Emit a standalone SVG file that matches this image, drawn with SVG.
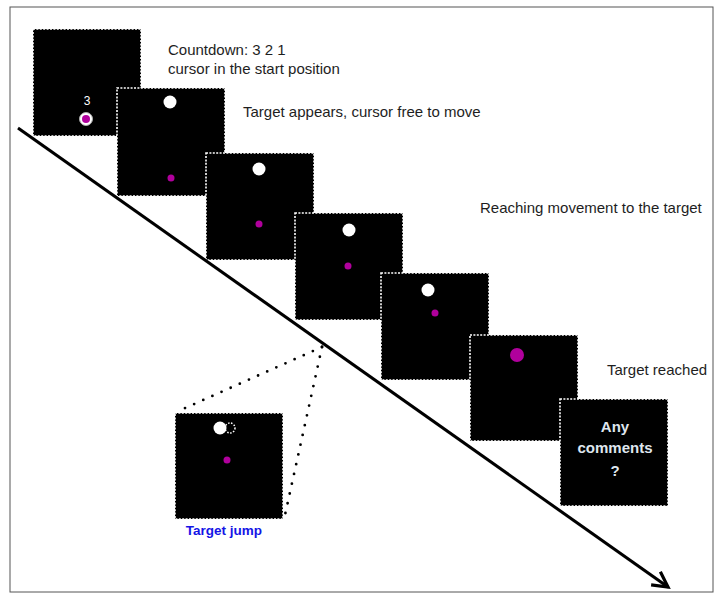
<svg xmlns="http://www.w3.org/2000/svg" width="723" height="599" viewBox="0 0 723 599">
<style>
.frame{fill:#ffffff;stroke:#555555;stroke-width:1}
.scr{fill:#000000;stroke:#ffffff;stroke-width:1.6;stroke-dasharray:2 1.4}
.tgt{fill:#ffffff}
.cur{fill:#b0009c}
.lbl{font-family:"Liberation Sans",Arial,sans-serif;font-size:15px;fill:#1e1e1e}
.dots{fill:none;stroke:#000000;stroke-width:2.8;stroke-linecap:round;stroke-dasharray:0 10}
</style>
<defs>
<marker id="ah" markerWidth="12" markerHeight="12" refX="9" refY="6" orient="auto" markerUnits="userSpaceOnUse" viewBox="0 0 12 12" overflow="visible">
<path d="M-6,-2 L9,6 L-6,14" fill="none" stroke="#000" stroke-width="3.2" stroke-linejoin="miter"/>
</marker>
</defs>
<rect class="frame" x="10" y="7" width="703" height="585"/>
<g id="screen1">
<rect class="scr" x="33" y="29" width="108" height="107"/>
<text x="87" y="105" text-anchor="middle" font-family="Liberation Sans,Arial,sans-serif" font-size="12" fill="#ffffff">3</text>
<circle cx="86" cy="119" r="6.5" fill="#ffffff" stroke="#aaaaaa" stroke-width="1"/>
<circle class="cur" cx="86" cy="119" r="4"/>
</g>
<g id="screen2">
<rect class="scr" x="117" y="88" width="108" height="108"/>
<circle class="tgt" cx="170" cy="102" r="6.5"/>
<circle class="cur" cx="171" cy="178" r="3.5"/>
</g>
<g id="screen3">
<rect class="scr" x="206" y="153" width="108" height="107"/>
<circle class="tgt" cx="259" cy="169" r="6.5"/>
<circle class="cur" cx="259" cy="224" r="3.5"/>
</g>
<g id="screen4">
<rect class="scr" x="295" y="213" width="108" height="107"/>
<circle class="tgt" cx="349" cy="230" r="6.5"/>
<circle class="cur" cx="348" cy="266" r="3.5"/>
</g>
<g id="screen5">
<rect class="scr" x="381" y="273" width="108" height="107"/>
<circle class="tgt" cx="428" cy="290" r="6.5"/>
<circle class="cur" cx="435" cy="313" r="3.5"/>
</g>
<g id="screen6">
<rect class="scr" x="470" y="335" width="108" height="106"/>
<circle class="cur" cx="517" cy="355" r="7"/>
</g>
<g id="screen7">
<rect class="scr" x="560" y="399" width="108" height="107"/>
<g font-family="Liberation Sans,Arial,sans-serif" font-size="15" font-weight="bold" fill="#dfe6ee" text-anchor="middle">
<text x="615" y="432">Any</text>
<text x="615" y="453">comments</text>
<text x="615" y="476">?</text>
</g>
</g>
<g id="jump-screen">
<rect class="scr" x="175" y="413" width="108" height="106"/>
<circle class="tgt" cx="220" cy="428" r="6.5"/>
<circle cx="230" cy="428" r="5" fill="none" stroke="#ffffff" stroke-width="1.5" stroke-dasharray="1.5 1.5"/>
<circle class="cur" cx="227" cy="460" r="3.5"/>
<text x="224" y="535" text-anchor="middle" font-family="Liberation Sans,Arial,sans-serif" font-size="13.5" font-weight="bold" fill="#1414e6">Target jump</text>
</g>
<g id="connectors">
<line x1="19" y1="129" x2="669" y2="588" stroke="#cccccc" stroke-width="3" opacity="0.6"/>
<line x1="18" y1="128" x2="668" y2="587" stroke="#000000" stroke-width="3" marker-end="url(#ah)"/>
<line class="dots" x1="322" y1="347" x2="183" y2="409"/>
<line class="dots" x1="322" y1="347" x2="285" y2="515"/>
</g>
<g id="labels">
<text class="lbl" x="168" y="55">Countdown: 3 2 1</text>
<text class="lbl" x="168" y="74">cursor in the start position</text>
<text class="lbl" x="243" y="117">Target appears, cursor free to move</text>
<text class="lbl" x="480" y="213">Reaching movement to the target</text>
<text class="lbl" x="607" y="375">Target reached</text>
</g>
</svg>
